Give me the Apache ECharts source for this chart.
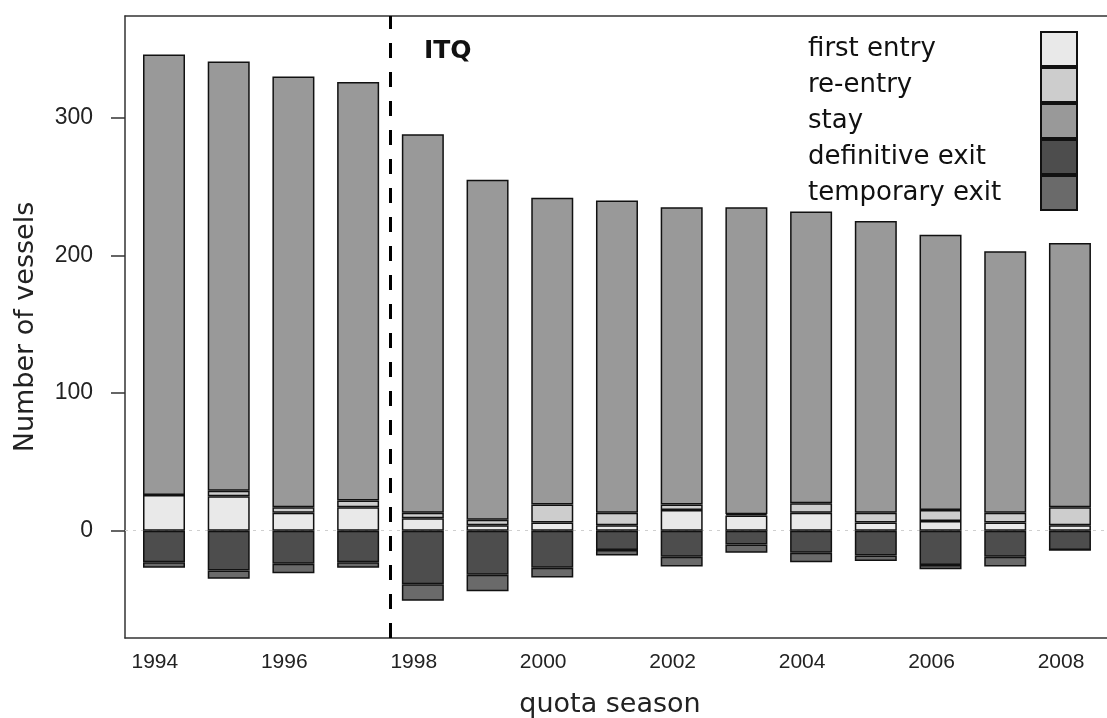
<!DOCTYPE html>
<html>
<head>
<meta charset="utf-8">
<script src="https://cdn.jsdelivr.net/npm/echarts@6/dist/echarts.min.js"></script>
<style>
html,body{margin:0;padding:0;background:#fff;}
#chart{width:1107px;height:718px;}
</style>
</head>
<body>
<div id="chart"></div>
<script>
const years = ['1994','1995','1996','1997','1998','1999','2000','2001','2002','2003','2004','2005','2006','2007','2008'];
const firstEntry = [26,25,13,17,9,4,6,4,15,11,13,6,7,6,4];
const reEntry = [0,4,4,5,4,4,13,9,4,1,7,7,8,7,13];
const stay = [320,312,313,304,275,247,223,227,216,223,212,212,200,190,192];
const definitiveExit = [-23,-29,-24,-23,-39,-32,-27,-14,-19,-10,-16,-18,-25,-19,-14];
const temporaryExit = [-4,-6,-7,-4,-12,-12,-7,-4,-7,-6,-7,-4,-3,-7,0];
const xTickLabels = [1994,1996,1998,2000,2002,2004,2006,2008];
const yTickValues = [0,100,200,300];
const itqBoundary = 1997.5;

const font = 'Liberation Sans, Arial, sans-serif';
const wide = 'DejaVu Sans, sans-serif';
const frameLine = {show: true, onZero: false, lineStyle: {color: '#333', width: 1.5}};
function barSeries(name, vals, color){
  return {
    name: name, type: 'bar', stack: 'total', barWidth: 42,
    xAxisIndex: 1, yAxisIndex: 1,
    data: vals, z: 3,
    itemStyle: {color: color, borderColor: '#111', borderWidth: 1.5},
    emphasis: {disabled: true}
  };
}

const chart = echarts.init(document.getElementById('chart'), null, {renderer: 'canvas'});
chart.setOption({
  animation: false,
  backgroundColor: '#fff',
  textStyle: {fontFamily: font},
  title: {
    text: 'ITQ', left: 419, top: 34,
    textStyle: {fontFamily: wide, fontSize: 25, fontWeight: 'bold', color: '#111'}
  },
  legend: {
    orient: 'vertical', left: 803, top: 26,
    align: 'right', itemWidth: 36, itemHeight: 34, itemGap: 0,
    icon: 'rect', selectedMode: false,
    data: ['first entry','re-entry','stay','definitive exit','temporary exit'],
    formatter: function(n){ return '{a|' + n + '}'; },
    textStyle: {
      fontFamily: wide, fontSize: 26, color: '#111',
      rich: {a: {width: 228, align: 'left', fontSize: 26, fontFamily: wide, color: '#111', lineHeight: 30}}
    }
  },
  grid: [
    {left: 125, top: 16, width: 1000, bottom: 80, outerBoundsMode: 'none', containLabel: false, show: false},
    {left: 131.65, top: 16, width: 970.65, bottom: 80, outerBoundsMode: 'none', containLabel: false, show: false}
  ],
  xAxis: [
    {
      type: 'value', gridIndex: 0, min: 1993.4, max: 2008.85,
      name: 'quota season', nameLocation: 'middle', nameGap: 53,
      nameTextStyle: {fontFamily: wide, fontSize: 27, color: '#222', padding: [0, 30, 0, 0]},
      axisLine: frameLine,
      axisTick: {show: false},
      splitLine: {show: false},
      axisLabel: {
        customValues: xTickLabels, margin: 14,
        fontFamily: font, fontSize: 21, color: '#222', padding: [0, 18, 0, 0],
        formatter: function(v){ return String(v); }
      }
    },
    {
      type: 'category', gridIndex: 1, data: years, boundaryGap: true,
      axisLine: {show: false}, axisTick: {show: false}, axisLabel: {show: false}, splitLine: {show: false}
    },
    {
      type: 'value', gridIndex: 0, position: 'top', min: 1993.4, max: 2008.85,
      axisLine: frameLine, axisTick: {show: false}, axisLabel: {show: false}, splitLine: {show: false}
    }
  ],
  yAxis: [
    {
      type: 'value', gridIndex: 0, min: -78, max: 374,
      name: 'Number of vessels', nameLocation: 'middle', nameGap: 86,
      nameTextStyle: {fontFamily: wide, fontSize: 27, color: '#222'},
      axisLine: frameLine,
      axisTick: {show: true, customValues: yTickValues, length: 14, lineStyle: {color: '#333', width: 1.5}},
      splitLine: {show: false},
      axisLabel: {customValues: yTickValues, margin: 32, fontFamily: font, fontSize: 23, color: '#222'}
    },
    {
      type: 'value', gridIndex: 1, min: -78, max: 374,
      axisLine: {show: false}, axisTick: {show: false}, axisLabel: {show: false}, splitLine: {show: false}
    }
  ],
  series: [
    {
      name: 'zero', type: 'line', data: [], z: 1, silent: true,
      xAxisIndex: 0, yAxisIndex: 0,
      markLine: {
        silent: true, symbol: 'none', z: 1,
        label: {show: false},
        lineStyle: {color: '#cfcfcf', type: [3, 5], width: 1.2},
        data: [{yAxis: 0}]
      }
    },
    barSeries('first entry', firstEntry, '#e9e9e9'),
    barSeries('re-entry', reEntry, '#cdcdcd'),
    barSeries('stay', stay, '#999999'),
    barSeries('definitive exit', definitiveExit, '#4d4d4d'),
    barSeries('temporary exit', temporaryExit, '#6a6a6a'),
    {
      name: 'itq', type: 'line', data: [], z: 5, silent: true,
      xAxisIndex: 0, yAxisIndex: 0,
      markLine: {
        silent: true, symbol: 'none', z: 5,
        label: {show: false},
        lineStyle: {color: '#000', type: [15, 14], width: 3},
        data: [{xAxis: itqBoundary}]
      }
    }
  ]
});
</script>
</body>
</html>
